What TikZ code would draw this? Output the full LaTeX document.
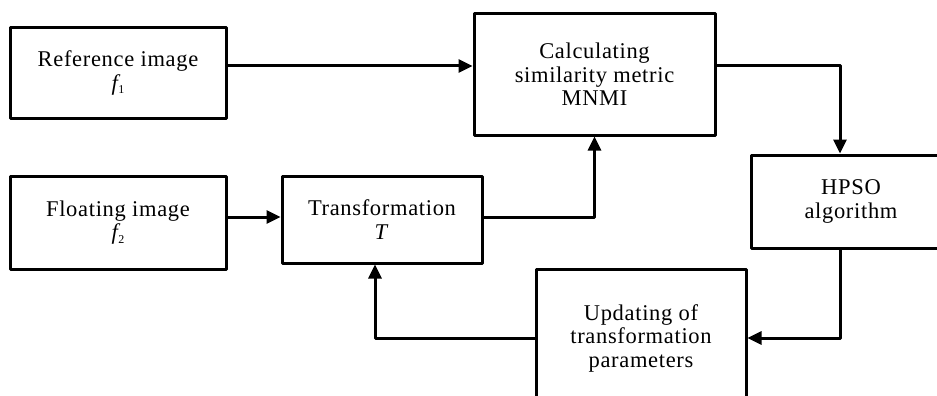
\documentclass[tikz,border=0pt]{standalone}
\usepackage{fontspec}
\setmainfont{Liberation Serif}[LetterSpace=3]
\usetikzlibrary{arrows.meta}
\newcommand{\fsub}[2]{{\itshape #1}\kern0.5pt\raisebox{-0.35ex}{\fontsize{12}{12}\selectfont #2}}
\begin{document}
\begin{tikzpicture}[x=1pt,y=-1pt,
  blk/.style={draw,line width=3pt,line join=round,align=center,inner sep=0pt,
    font=\fontsize{22.5}{23.5}\selectfont},
  conn/.style={line width=3pt,line join=round},
  arr/.style={conn,-{Triangle[length=14pt,width=13pt]}}]
\useasboundingbox (0,0) rectangle (937,396);
\fill[white] (0,0) rectangle (937,396);
\clip (0,0) rectangle (937,396);

\node[blk,minimum width=216pt,minimum height=90pt] (ref) at (118,73)
  {Reference image\\\fsub{f}{1}};
\node[blk,minimum width=216pt,minimum height=93pt] (flo) at (118,222.5)
  {Floating image\\\fsub{f}{2}};
\node[blk,minimum width=200pt,minimum height=87pt] (tr) at (382,219.5)
  {Transformation\\\textit{T}};
\node[blk,minimum width=241pt,minimum height=121pt] (sim) at (594.5,74.5)
  {Calculating\\similarity metric\\MNMI};
\node[blk,minimum width=200pt,minimum height=93pt] (hpso) at (851,201.5)
  {HPSO\\algorithm};
\node[blk,minimum width=210pt,minimum height=138pt] (upd) at (641,338)
  {Updating of\\transformation\\parameters};

\coordinate (hy) at (0,66);
\coordinate (hx) at (840,0);
\coordinate (fx) at (375,0);
\coordinate (ty) at (0,217);

\draw[arr] (ref.east |- hy) -- (sim.west |- hy);
\draw[arr] (flo.east |- ty) -- (tr.west |- ty);
\draw[arr] (tr.east |- ty) -| (sim.south);
\draw[arr] (sim.east |- hy) -| (hx |- hpso.north);
\draw[arr] (hx |- hpso.south) |- (upd.east);
\draw[arr] (upd.west) -| (fx |- tr.south);
\end{tikzpicture}
\end{document}
